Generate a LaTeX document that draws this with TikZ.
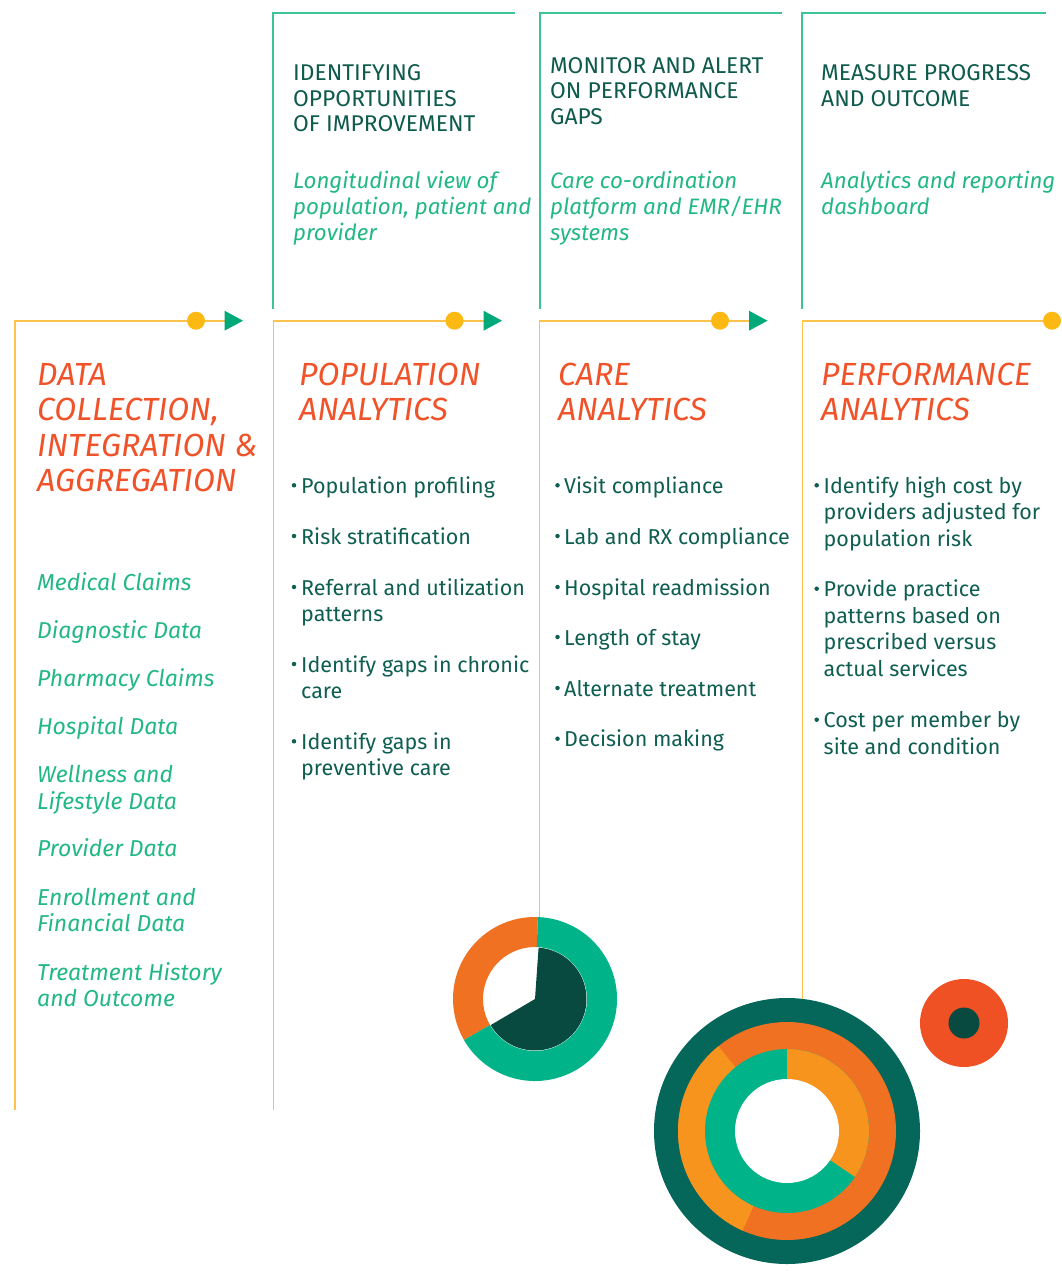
\documentclass[tikz,border=0pt]{standalone}
\usepackage{fontspec}
\setmainfont{Fira Sans}
\definecolor{ttlc}{HTML}{F0532A}
\definecolor{hdrc}{HTML}{0E5A4C}
\definecolor{subc}{HTML}{22B883}
\definecolor{bltc}{HTML}{0F5E52}
\definecolor{linec}{HTML}{FCC34C}
\definecolor{dotc}{HTML}{FDB913}
\definecolor{tric}{HTML}{00A97A}
\definecolor{boxc}{HTML}{3CC497}
\definecolor{dkteal}{HTML}{05665A}
\definecolor{dkpie}{HTML}{084A40}
\definecolor{grn}{HTML}{00B388}
\definecolor{org}{HTML}{F07122}
\definecolor{lorg}{HTML}{F7941E}
\definecolor{redc}{HTML}{EF5024}
\newcommand{\ml}[1]{\begin{tabular}[t]{@{}l@{}}#1\end{tabular}}
\tikzset{
  txt/.style={anchor=base west, inner sep=0pt},
  hdr/.style={txt, text=hdrc, font=\fontsize{22.8}{25.5}\selectfont},
  sub/.style={txt, text=subc, font=\itshape\fontsize{22.3}{26}\selectfont},
  ttl/.style={txt, text=ttlc, font=\itshape\fontsize{32}{35.2}\selectfont},
  lst/.style={txt, text=subc, font=\itshape\fontsize{23}{26.7}\selectfont},
  blt/.style={txt, text=bltc, font=\fontsize{21.5}{26.5}\selectfont},
  bdot/.style={circle, fill=bltc, inner sep=0pt, minimum size=4.5pt},
  oline/.style={draw=linec, line width=1.6pt},
  gline/.style={draw=boxc, line width=1.4pt},
  ydot/.style={circle, fill=dotc, inner sep=0pt, minimum size=18pt},
}
\newcommand{\tri}[2]{\fill[tric] (#1,#2-10) -- (#1+18.5,#2) -- (#1,#2+10) -- cycle;}
\newcommand{\annsec}[5]{% color, a1, a2, r1, r2
  \fill[#1] (#2:#5) arc[start angle=#2, end angle=#3, radius=#5] -- (#3:#4) arc[start angle=#3, end angle=#2, radius=#4] -- cycle;}
\begin{document}
\begin{tikzpicture}[x=1pt,y=-1pt]
\useasboundingbox (0,0) rectangle (1062,1271);
% green header boxes
\coordinate (g1a) at (273,309); \coordinate (g1b) at (273,13); \coordinate (g1c) at (515,13);
\coordinate (g2a) at (540,309); \coordinate (g2b) at (540,13); \coordinate (g2c) at (782,13);
\coordinate (g3a) at (802,309); \coordinate (g3b) at (802,13); \coordinate (g3c) at (1046,13);
\draw[gline] (g1a) -- (g1b) -- (g1c);
\draw[gline] (g2a) -- (g2b) -- (g2c);
\draw[gline] (g3a) -- (g3b) -- (g3c);
% orange frames
\coordinate (o0a) at (15,1110); \coordinate (o0b) at (15,320.7); \coordinate (o0c) at (225,320.7);
\coordinate (o1a) at (273.3,1110); \coordinate (o1b) at (273.3,320.7); \coordinate (o1c) at (484,320.7);
\coordinate (o2a) at (539.5,918); \coordinate (o2b) at (539.5,320.7); \coordinate (o2c) at (749,320.7);
\coordinate (o3a) at (802.5,1010); \coordinate (o3b) at (802.5,320.7); \coordinate (o3c) at (1052,320.7);
\draw[oline] (o0a) -- (o0b) -- (o0c);
\draw[oline] (o1a) -- (o1b) -- (o1c);
\draw[oline] (o2a) -- (o2b) -- (o2c);
\draw[oline] (o3a) -- (o3b) -- (o3c);
\node[ydot] (d0) at (196,320.7) {};
\node[ydot] (d1) at (454.5,320.7) {};
\node[ydot] (d2) at (720,320.7) {};
\node[ydot] (d3) at (1052,320.7) {};
\tri{224.5}{320.7}
\tri{483.5}{320.7}
\tri{749}{320.7}
% header texts
\node[hdr] (h1) at (293,81) {\ml{IDENTIFYING\\OPPORTUNITIES\\OF IMPROVEMENT}};
\node[hdr] (h2) at (550,73.3) {\ml{MONITOR AND ALERT\\ON PERFORMANCE\\GAPS}};
\node[hdr] (h3) at (821,81) {\ml{MEASURE PROGRESS\\AND OUTCOME}};
\node[sub] (s1) at (293,188.5) {\ml{Longitudinal view of\\population, patient and\\provider}};
\node[sub] (s2) at (550,188.5) {\ml{Care co-ordination\\platform and EMR/EHR\\systems}};
\node[sub] (s3) at (821,188.5) {\ml{Analytics and reporting\\dashboard}};
% titles
\node[ttl] (t0) at (37,385.7) {\ml{DATA\\COLLECTION,\\INTEGRATION \&\\AGGREGATION}};
\node[ttl] (t1) at (299,385.7) {\ml{POPULATION\\ANALYTICS}};
\node[ttl] (t2) at (558,385.7) {\ml{CARE\\ANALYTICS}};
\node[ttl] (t3) at (821,385.7) {\ml{PERFORMANCE\\ANALYTICS}};
% data list
\node[lst] (l1) at (37,590.7) {Medical Claims};
\node[lst] (l2) at (37,638.5) {Diagnostic Data};
\node[lst] (l3) at (37,686.5) {Pharmacy Claims};
\node[lst] (l4) at (37,734.3) {Hospital Data};
\node[lst] (l5) at (37,782.3) {\ml{Wellness and\\Lifestyle Data}};
\node[lst] (l6) at (37,856.7) {Provider Data};
\node[lst] (l7) at (37,905) {\ml{Enrollment and\\Financial Data}};
\node[lst] (l8) at (37,980) {\ml{Treatment History\\and Outcome}};
% bullets column 1
\foreach \n/\y/\t in {a/493.3/{Population profiling}, b/544/{Risk stratification}, c/595/{Referral and utilization\\patterns}, d/672/{Identify gaps in chronic\\care}, e/749.3/{Identify gaps in\\preventive care}}{
  \node[blt] (p\n) at (301,\y) {\ml{\t}};
  \node[bdot] (pb\n) at (294,\y-8) {};
}
% bullets column 2
\foreach \n/\y/\t in {a/493.3/{Visit compliance}, b/544/{Lab and RX compliance}, c/595/{Hospital readmission}, d/645/{Length of stay}, e/696/{Alternate treatment}, f/746.7/{Decision making}}{
  \node[blt] (c\n) at (564,\y) {\ml{\t}};
  \node[bdot] (cb\n) at (557.5,\y-8) {};
}
% bullets column 3
\foreach \n/\y/\t in {a/493.3/{Identify high cost by\\providers adjusted for\\population risk}, b/596.7/{Provide practice\\patterns based on\\prescribed versus\\actual services}, c/727.7/{Cost per member by\\site and condition}}{
  \node[blt] (f\n) at (823.5,\y) {\ml{\t}};
  \node[bdot] (fb\n) at (816.7,\y-8) {};
}
% small donut
\begin{scope}[shift={(535,999)}, yscale=-1]
  \fill[white] (0,0) circle[radius=52];
  \fill[dkpie] (0,0) -- (86:51.5) arc[start angle=86, end angle=-149.5, radius=51.5] -- cycle;
  \annsec{org}{88}{210}{52}{82}
  \annsec{grn}{210}{448}{52}{82}
\end{scope}
% big donut
\begin{scope}[shift={(787,1131)}, yscale=-1]
  \fill[dkteal] (0,0) circle[radius=133];
  \fill[org] (0,0) circle[radius=109];
  \fill[lorg] (0,0) -- (129:109) arc[start angle=129, end angle=246, radius=109] -- cycle;
  \fill[grn] (0,0) circle[radius=82];
  \fill[lorg] (0,0) -- (90:82) arc[start angle=90, end angle=-34, radius=82] -- cycle;
  \fill[white] (0,0) circle[radius=52];
\end{scope}
% red circle
\fill[redc] (964,1023) circle[radius=44];
\fill[dkpie] (964,1023) circle[radius=15.5];
\end{tikzpicture}
\end{document}
